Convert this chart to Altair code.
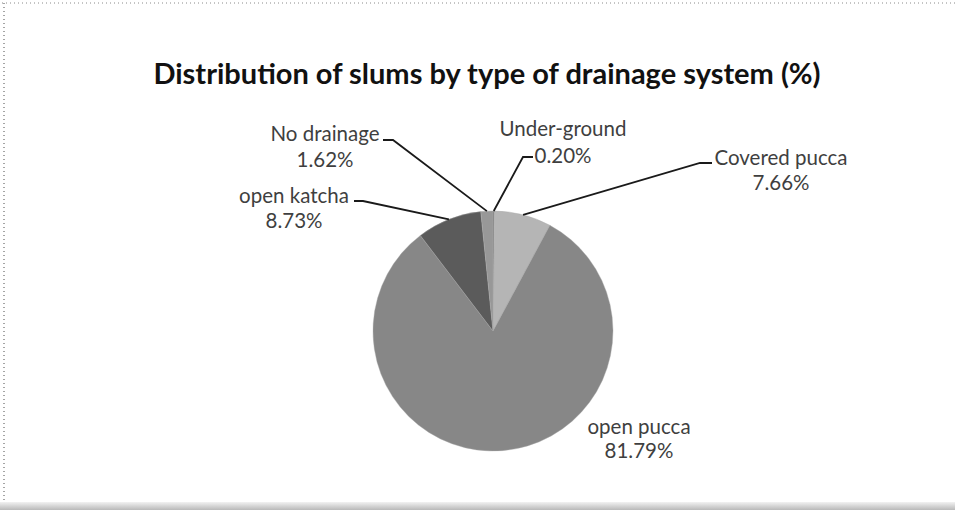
import math
import altair as alt
import pandas as pd

# Drainage types, in the order the slices run clockwise from 12 o'clock
categories = ["Under-ground", "Covered pucca", "open pucca", "open katcha", "No drainage"]
label_names = ["Under-ground", "Covered pucca", "open  pucca", "open katcha", "No drainage"]
shares = [0.20, 7.66, 81.79, 8.73, 1.62]
slice_colors = ["#7c7c7c", "#b5b5b5", "#878787", "#5b5b5b", "#989898"]

title_text = "Distribution of slums by type of drainage system (%)"

W, H = 955, 510
CX, CY, R = 493, 331, 120
FONT = "Lato"
TEXT_GREY = "#3f3f3f"

# label block: (centre x, name-line y, percent-line y)
label_pos = {
    "Under-ground": (563, 130, 157),
    "Covered pucca": (781, 159, 184),
    "open pucca": (639, 428, 452),
    "open katcha": (294, 197, 222),
    "No drainage": (325, 135, 161),
}
# (text-side start x, elbow x, y) for each leader; None = no leader
leader_ends = {
    "Under-ground": (533, 523, 157),
    "Covered pucca": (712, 700, 163),
    "open pucca": None,
    "open katcha": (354, 363, 201),
    "No drainage": (383, 393, 140),
}

pie = pd.DataFrame({
    "category": categories,
    "share": shares,
    "order": list(range(len(categories))),
})

arcs = alt.Chart(pie).mark_arc(radius=R, stroke="#a9a9a9", strokeWidth=0.4).encode(
    theta=alt.Theta("share:Q", stack=True),
    order=alt.Order("order:Q"),
    color=alt.Color("category:N", scale=alt.Scale(domain=categories, range=slice_colors), legend=None),
    x=alt.value(CX),
    y=alt.value(CY),
)

# label rows and leader polylines, anchored at each slice's mid-angle on the rim
rows = []
leaders = []
cum = 0.0
for cat, name, s in zip(categories, label_names, shares):
    mid = (cum + s / 2) / 100 * 2 * math.pi
    cum += s
    lx, ny, py_ = label_pos[cat]
    rows.append({"x": lx, "y": ny, "t": name})
    rows.append({"x": lx, "y": py_, "t": f"{s:.2f}%"})
    le = leader_ends[cat]
    if le is not None:
        sx, ex, ey = le
        rx = CX + R * math.sin(mid)
        ry = CY - R * math.cos(mid)
        for i, (xx, yy) in enumerate([(sx, ey), (ex, ey), (rx, ry)]):
            leaders.append({"cat": cat, "i": i, "px": xx, "py": yy})

labels_df = pd.DataFrame(rows)
leaders_df = pd.DataFrame(leaders)

px_x = lambda f: alt.X(f, scale=None, axis=None)
px_y = lambda f: alt.Y(f, scale=None, axis=None)

leader_lines = alt.Chart(leaders_df).mark_line(color="#1a1a1a", strokeWidth=1.8).encode(
    x=px_x("px:Q"), y=px_y("py:Q"), detail="cat:N", order="i:Q"
)

labels = alt.Chart(labels_df).mark_text(
    font=FONT, fontSize=20.5, color=TEXT_GREY, baseline="middle", align="center"
).encode(x=px_x("x:Q"), y=px_y("y:Q"), text="t:N")

title = alt.Chart(pd.DataFrame({"t": [title_text]})).mark_text(
    font=FONT, fontSize=29, fontWeight="bold", color="#111111", baseline="middle", align="center"
).encode(x=alt.value(487), y=alt.value(75), text="t:N")

# dotted frame along the top and left, grey band at the bottom
top_rule = alt.Chart(pd.DataFrame({"a": [0]})).mark_rule(
    color="#8a8a8a", strokeDash=[1, 3], strokeWidth=1
).encode(x=alt.value(2), x2=alt.value(W), y=alt.value(3))
left_rule = alt.Chart(pd.DataFrame({"a": [0]})).mark_rule(
    color="#6a6a6a", strokeDash=[1, 3], strokeWidth=1.2
).encode(x=alt.value(4), y=alt.value(3), y2=alt.value(H))
bottom_band = alt.Chart(pd.DataFrame({"a": [0]})).mark_rect(
    color=alt.Gradient(
        gradient="linear",
        stops=[alt.GradientStop(color="#f2f2f2", offset=0), alt.GradientStop(color="#b9b9b9", offset=1)],
        x1=0, x2=0, y1=0, y2=1,
    )
).encode(x=alt.value(0), x2=alt.value(W), y=alt.value(502), y2=alt.value(H))

chart = alt.layer(arcs, leader_lines, labels, title, top_rule, left_rule, bottom_band).properties(
    width=W, height=H, padding=0, autosize=alt.AutoSizeParams(type="none"), background="white"
).configure_view(stroke=None)

chart.save("out.html", embed_options={"renderer": "svg", "actions": False})
